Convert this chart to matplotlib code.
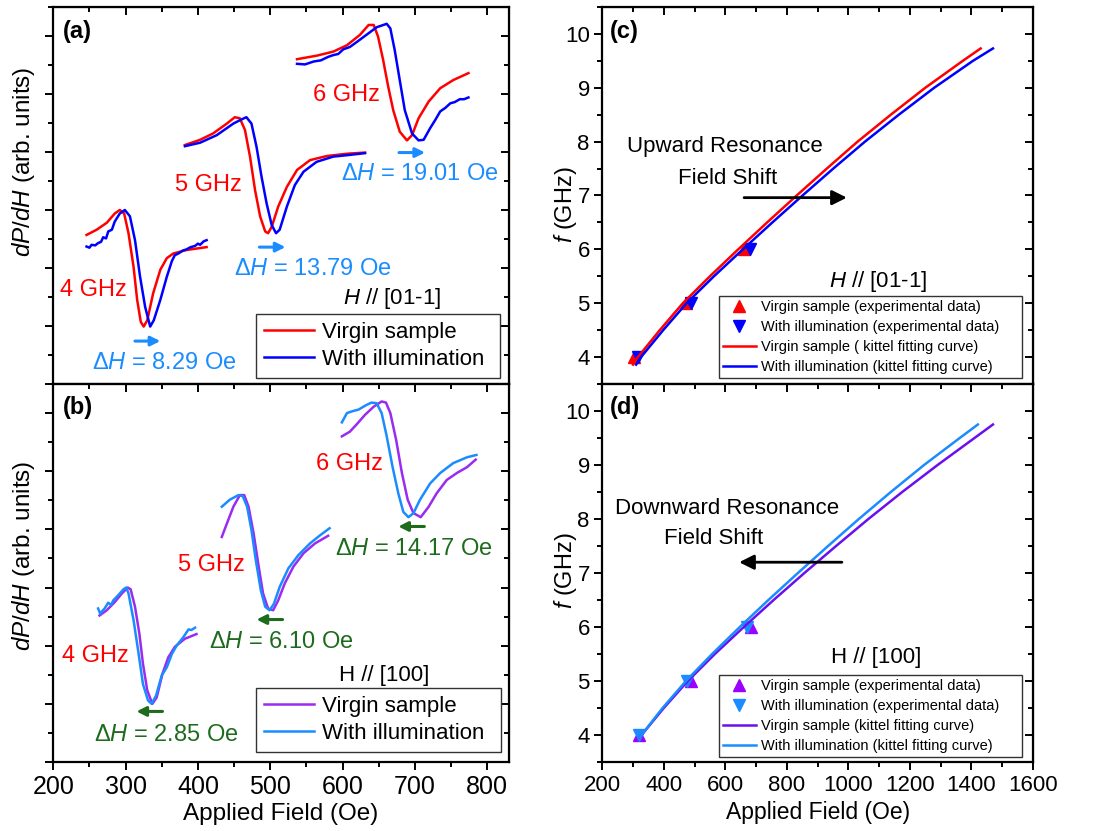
import matplotlib.pyplot as plt
from matplotlib.ticker import MultipleLocator
from matplotlib.lines import Line2D

plt.rcParams['font.family'] = ['Liberation Sans', 'DejaVu Sans']
plt.rcParams['mathtext.fontset'] = 'custom'
plt.rcParams['mathtext.rm'] = 'Liberation Sans'
plt.rcParams['mathtext.it'] = 'Liberation Sans:italic'

# ---- panel (a): H // [01-1], FMR spectra (field in Oe, dP/dH arb. units, offset per frequency)
a4_virgin_h = [246, 260, 274, 285, 292, 298, 304, 311, 316, 321, 325, 330, 338, 348, 357, 366, 384, 412]
a4_virgin_y = [1.57, 1.66, 1.78, 1.94, 2.00, 1.94, 1.60, 1.02, 0.45, 0.07, -0.01, 0.10, 0.56, 0.97, 1.17, 1.25, 1.31, 1.36]
a4_illum_h = [246, 250, 253, 258, 262, 266, 269, 273, 276, 281, 285, 292, 299, 306, 313, 320, 327, 334, 339, 348, 357, 364, 368, 373, 379, 384, 390, 396, 400, 403, 408, 412]
a4_illum_y = [1.37, 1.35, 1.40, 1.39, 1.43, 1.45, 1.53, 1.51, 1.63, 1.66, 1.80, 1.94, 2.00, 1.89, 1.48, 0.85, 0.33, -0.01, 0.10, 0.45, 0.85, 1.12, 1.22, 1.25, 1.30, 1.32, 1.36, 1.38, 1.42, 1.40, 1.46, 1.48]
a5_virgin_h = [382, 403, 421, 440, 451, 458, 465, 472, 479, 486, 493, 497, 502, 511, 523, 537, 555, 578, 606, 631]
a5_virgin_y = [3.12, 3.21, 3.32, 3.49, 3.60, 3.58, 3.38, 2.92, 2.34, 1.89, 1.63, 1.60, 1.71, 2.06, 2.40, 2.69, 2.86, 2.93, 2.97, 2.99]
a5_illum_h = [382, 403, 426, 449, 460, 467, 474, 481, 488, 495, 502, 508, 513, 523, 534, 546, 564, 587, 610, 631]
a5_illum_y = [3.10, 3.16, 3.29, 3.49, 3.56, 3.60, 3.49, 3.09, 2.57, 2.11, 1.74, 1.60, 1.66, 2.06, 2.43, 2.66, 2.83, 2.92, 2.95, 2.98]
a6_virgin_h = [537, 564, 587, 606, 624, 636, 643, 649, 656, 663, 670, 679, 689, 696, 705, 719, 735, 753, 774]
a6_virgin_y = [4.60, 4.66, 4.73, 4.84, 5.02, 5.19, 5.19, 4.99, 4.59, 4.13, 3.72, 3.35, 3.20, 3.29, 3.58, 3.87, 4.10, 4.24, 4.36]
a6_illum_h = [537, 548, 560, 570, 580, 587, 594, 601, 610, 620, 633, 647, 661, 666, 672, 679, 686, 696, 705, 712, 721, 728, 735, 742, 749, 755, 762, 768, 774]
a6_illum_y = [4.52, 4.51, 4.56, 4.58, 4.64, 4.67, 4.69, 4.77, 4.81, 4.90, 5.02, 5.15, 5.21, 5.13, 4.76, 4.24, 3.72, 3.32, 3.20, 3.21, 3.41, 3.55, 3.70, 3.76, 3.84, 3.86, 3.91, 3.91, 3.94]

# ---- panel (b): H // [100]
b4_virgin_h = [264, 274, 285, 295, 303, 307, 313, 319, 324, 330, 337, 343, 351, 359, 368, 382, 398]
b4_virgin_y = [1.52, 1.61, 1.75, 1.90, 2.00, 1.97, 1.67, 1.21, 0.69, 0.23, 0.00, 0.11, 0.52, 0.80, 0.98, 1.12, 1.20]
b4_illum_h = [262, 265, 268, 271, 276, 280, 283, 290, 297, 301, 304, 311, 318, 324, 331, 336, 342, 350, 357, 364, 371, 380, 387, 391, 396]
b4_illum_y = [1.64, 1.55, 1.60, 1.64, 1.74, 1.70, 1.78, 1.87, 1.97, 2.00, 1.90, 1.44, 0.86, 0.34, 0.06, 0.00, 0.14, 0.49, 0.63, 0.86, 1.01, 1.15, 1.28, 1.27, 1.31]
b5_virgin_h = [433, 440, 449, 458, 464, 470, 477, 484, 490, 497, 504, 511, 520, 532, 546, 562, 580]
b5_virgin_y = [2.87, 3.10, 3.39, 3.59, 3.59, 3.39, 2.93, 2.36, 1.90, 1.64, 1.61, 1.78, 2.07, 2.36, 2.59, 2.76, 2.89]
b5_illum_h = [433, 444, 456, 462, 468, 474, 480, 487, 493, 499, 505, 513, 525, 539, 555, 569, 582]
b5_illum_y = [3.39, 3.51, 3.59, 3.57, 3.39, 2.99, 2.47, 1.95, 1.67, 1.61, 1.72, 2.01, 2.33, 2.56, 2.76, 2.90, 3.02]
b6_virgin_h = [599, 610, 619, 631, 643, 654, 660, 666, 674, 682, 690, 698, 708, 719, 730, 744, 758, 772, 784]
b6_virgin_y = [4.60, 4.68, 4.80, 4.97, 5.11, 5.20, 5.18, 5.00, 4.54, 3.97, 3.51, 3.28, 3.21, 3.39, 3.62, 3.85, 3.97, 4.07, 4.20]
b6_illum_h = [599, 606, 613, 622, 633, 640, 647, 654, 661, 669, 677, 684, 691, 698, 707, 721, 735, 753, 772, 785]
b6_illum_y = [4.84, 5.00, 5.03, 5.06, 5.14, 5.18, 5.17, 5.00, 4.60, 4.08, 3.62, 3.30, 3.21, 3.28, 3.51, 3.79, 3.97, 4.14, 4.24, 4.28]

# ---- panel (c): resonance frequency vs field, H // [01-1]
c_exp_f = [4, 5, 6]
c_virgin_exp_h = [304, 471, 661]
c_illum_exp_h = [315, 487, 680]
c_fit_f = [3.86, 4.0, 4.5, 5.0, 5.5, 6.0, 6.5, 7.0, 7.5, 8.0, 8.5, 9.0, 9.5, 9.73]
c_virgin_fit_h = [300, 316, 387, 462, 550, 642, 736, 832, 930, 1030, 1138, 1250, 1372, 1430]
c_illum_fit_h = [310, 326, 398, 474, 563, 657, 753, 851, 951, 1054, 1164, 1279, 1405, 1470]

# ---- panel (d): resonance frequency vs field, H // [100]
d_exp_f = [4, 5, 6]
d_virgin_exp_h = [319, 487, 683]
d_illum_exp_h = [319, 474, 670]
d_fit_f = [3.96, 4.5, 5.0, 5.5, 6.0, 6.5, 7.0, 7.5, 8.0, 8.5, 9.0, 9.5, 9.75]
d_virgin_fit_h = [322, 400, 478, 566, 660, 757, 857, 960, 1065, 1175, 1290, 1410, 1470]
d_illum_fit_h = [322, 396, 472, 557, 647, 740, 836, 934, 1034, 1138, 1246, 1362, 1421]

RED = '#ff0000'
BLUE = '#0000ff'
TXTBLUE = '#1a8cff'
PURPLE = '#9a2bf0'
LBLUE = '#1a8cff'
GREEN = '#1e6b1e'
D_PURPLE_LINE = '#6a10f0'
D_PURPLE_MARK = '#9b00ff'

fig = plt.figure(figsize=(11.12, 8.31), dpi=100)
ax_a = fig.add_axes([0.0479, 0.5379, 0.4098, 0.4537])
ax_b = fig.add_axes([0.0479, 0.0830, 0.4098, 0.4549])
ax_c = fig.add_axes([0.5416, 0.5379, 0.3873, 0.4537])
ax_d = fig.add_axes([0.5416, 0.0830, 0.3873, 0.4549])


def style(ax, xmaj, xmin, ymaj, ymin, xlabels, ylabels, size):
    for s in ax.spines.values():
        s.set_linewidth(1.6)
    ax.xaxis.set_major_locator(MultipleLocator(xmaj))
    ax.xaxis.set_minor_locator(MultipleLocator(xmin))
    ax.yaxis.set_major_locator(MultipleLocator(ymaj))
    ax.yaxis.set_minor_locator(MultipleLocator(ymin))
    ax.tick_params(which='both', direction='out', width=1.4, labelsize=size,
                   labelbottom=xlabels, labelleft=ylabels, pad=3)
    ax.tick_params(which='major', length=6)
    ax.tick_params(which='minor', length=3.5)
    # mirrored ticks pointing inwards on top and right
    top = ax.secondary_xaxis('top')
    top.xaxis.set_major_locator(MultipleLocator(xmaj))
    top.xaxis.set_minor_locator(MultipleLocator(xmin))
    top.tick_params(which='both', direction='in', width=1.4, labeltop=False)
    top.tick_params(which='major', length=6)
    top.tick_params(which='minor', length=3.5)
    right = ax.secondary_yaxis('right')
    right.yaxis.set_major_locator(MultipleLocator(ymaj))
    right.yaxis.set_minor_locator(MultipleLocator(ymin))
    right.tick_params(which='both', direction='in', width=1.4, labelright=False)
    right.tick_params(which='major', length=6)
    right.tick_params(which='minor', length=3.5)


def arrow(ax, x0, x1, y, color, lw=2.2, scale=14):
    ax.annotate('', xy=(x1, y), xytext=(x0, y),
                arrowprops=dict(arrowstyle='-|>', color=color, lw=lw,
                                mutation_scale=scale, shrinkA=0, shrinkB=0))


def box_legend(ax, handles, labels, box, size, hlen, spacing, pad=0.25):
    leg = ax.legend(handles, labels, loc='lower left', bbox_to_anchor=box, mode='expand',
                    borderaxespad=0, fontsize=size, fancybox=False, edgecolor='#333333',
                    framealpha=1, handlelength=hlen, labelspacing=spacing,
                    borderpad=pad, handletextpad=0.35)
    leg.get_frame().set_linewidth(1.0)


LW = 1.8

# (a)
ax = ax_a
ax.plot(a4_virgin_h, a4_virgin_y, color=RED, lw=LW)
ax.plot(a4_illum_h, a4_illum_y, color=BLUE, lw=LW)
ax.plot(a5_virgin_h, a5_virgin_y, color=RED, lw=LW)
ax.plot(a5_illum_h, a5_illum_y, color=BLUE, lw=LW)
ax.plot(a6_virgin_h, a6_virgin_y, color=RED, lw=LW)
ax.plot(a6_illum_h, a6_illum_y, color=BLUE, lw=LW)
ax.set_xlim(200, 830)
ax.set_ylim(-1, 5.5)
style(ax, 100, 50, 1, 0.5, False, False, 18)
ax.set_ylabel(r'$dP/dH$ (arb. units)', fontsize=17.5)
ax.yaxis.set_label_coords(-0.035, 0.59)
ax.text(0.022, 0.934, '(a)', transform=ax.transAxes, fontsize=17, fontweight='bold', va='center')
ax.text(256, 0.62, '4 GHz', color=RED, fontsize=17, ha='center', va='center')
ax.text(414, 2.43, '5 GHz', color=RED, fontsize=17, ha='center', va='center')
ax.text(606, 3.98, '6 GHz', color=RED, fontsize=17, ha='center', va='center')
ax.text(353, -0.64, r'Δ$H$ = 8.29 Oe', color=TXTBLUE, fontsize=17, ha='center', va='center')
ax.text(559, 0.98, r'Δ$H$ = 13.79 Oe', color=TXTBLUE, fontsize=17, ha='center', va='center')
ax.text(707, 2.62, r'Δ$H$ = 19.01 Oe', color=TXTBLUE, fontsize=17, ha='center', va='center')
arrow(ax, 313, 348, -0.26, TXTBLUE)
arrow(ax, 485, 521, 1.36, TXTBLUE)
arrow(ax, 678, 714, 2.99, TXTBLUE)
ax.text(668, 0.48, r'$H$ // [01-1]', fontsize=16, ha='center', va='center')
hand = [Line2D([], [], color=RED, lw=LW), Line2D([], [], color=BLUE, lw=LW)]
box_legend(ax, hand, ['Virgin sample', 'With illumination'],
           (0.445, 0.016, 0.535, 0.2), 16, 2.25, 0.25, pad=0.38)

# (b)
ax = ax_b
ax.plot(b4_virgin_h, b4_virgin_y, color=PURPLE, lw=LW)
ax.plot(b4_illum_h, b4_illum_y, color=LBLUE, lw=LW)
ax.plot(b5_virgin_h, b5_virgin_y, color=PURPLE, lw=LW)
ax.plot(b5_illum_h, b5_illum_y, color=LBLUE, lw=LW)
ax.plot(b6_virgin_h, b6_virgin_y, color=PURPLE, lw=LW)
ax.plot(b6_illum_h, b6_illum_y, color=LBLUE, lw=LW)
ax.set_xlim(200, 830)
ax.set_ylim(-1, 5.5)
style(ax, 100, 50, 1, 0.5, True, False, 18)
ax.set_xlabel('Applied Field (Oe)', fontsize=17.5, labelpad=3)
ax.set_ylabel(r'$dP/dH$ (arb. units)', fontsize=17.5)
ax.yaxis.set_label_coords(-0.035, 0.545)
ax.text(0.022, 0.937, '(b)', transform=ax.transAxes, fontsize=17, fontweight='bold', va='center')
ax.text(258, 0.82, '4 GHz', color=RED, fontsize=17, ha='center', va='center')
ax.text(419, 2.39, '5 GHz', color=RED, fontsize=17, ha='center', va='center')
ax.text(610, 4.12, '6 GHz', color=RED, fontsize=17, ha='center', va='center')
ax.text(356, -0.53, r'Δ$H$ = 2.85 Oe', color=GREEN, fontsize=17, ha='center', va='center')
ax.text(515, 1.06, r'Δ$H$ = 6.10 Oe', color=GREEN, fontsize=17, ha='center', va='center')
ax.text(699, 2.67, r'Δ$H$ = 14.17 Oe', color=GREEN, fontsize=17, ha='center', va='center')
arrow(ax, 351, 315, -0.13, GREEN)
arrow(ax, 517, 481, 1.45, GREEN)
arrow(ax, 713, 677, 3.05, GREEN)
ax.text(658, 0.49, 'H // [100]', fontsize=16, ha='center', va='center')
hand = [Line2D([], [], color=PURPLE, lw=LW), Line2D([], [], color=LBLUE, lw=LW)]
box_legend(ax, hand, ['Virgin sample', 'With illumination'],
           (0.445, 0.026, 0.538, 0.2), 16, 2.25, 0.25, pad=0.38)

# (c)
ax = ax_c
ax.plot(c_virgin_exp_h, c_exp_f, '^', color=RED, ms=9, ls='none')
ax.plot(c_illum_exp_h, c_exp_f, 'v', color=BLUE, ms=9, ls='none')
ax.plot(c_virgin_fit_h, c_fit_f, color=RED, lw=LW)
ax.plot(c_illum_fit_h, c_fit_f, color=BLUE, lw=LW)
ax.set_xlim(200, 1600)
ax.set_ylim(3.5, 10.5)
style(ax, 200, 100, 1, 0.5, False, True, 16)
ax.set_ylabel(r'$f$ (GHz)', fontsize=17)
ax.yaxis.set_label_coords(-0.054, 0.475)
ax.text(0.018, 0.934, '(c)', transform=ax.transAxes, fontsize=17, fontweight='bold', va='center')
ax.text(600, 7.91, 'Upward Resonance', fontsize=16, ha='center', va='center')
ax.text(606, 7.31, 'Field Shift', fontsize=16, ha='center', va='center')
arrow(ax, 661, 995, 6.96, 'black', lw=2, scale=22)
ax.text(1098, 5.40, r'$H$ // [01-1]', fontsize=16, ha='center', va='center')
hand = [Line2D([], [], marker='^', color=RED, ms=9, ls='none'),
        Line2D([], [], marker='v', color=BLUE, ms=9, ls='none'),
        Line2D([], [], color=RED, lw=LW), Line2D([], [], color=BLUE, lw=LW)]
box_legend(ax, hand, ['Virgin sample (experimental data)',
                      'With illumination (experimental data)',
                      'Virgin sample ( kittel fitting curve)',
                      'With illumination (kittel fitting curve)'],
           (0.271, 0.016, 0.703, 0.2), 10.5, 2.3, 0.42)

# (d)
ax = ax_d
ax.plot(d_virgin_exp_h, d_exp_f, '^', color=D_PURPLE_MARK, ms=9, ls='none')
ax.plot(d_illum_exp_h, d_exp_f, 'v', color=LBLUE, ms=9, ls='none')
ax.plot(d_virgin_fit_h, d_fit_f, color=D_PURPLE_LINE, lw=LW)
ax.plot(d_illum_fit_h, d_fit_f, color=LBLUE, lw=LW)
ax.set_xlim(200, 1600)
ax.set_ylim(3.5, 10.5)
style(ax, 200, 100, 1, 0.5, True, True, 16)
ax.set_xlabel('Applied Field (Oe)', fontsize=16.5, labelpad=4)
ax.set_ylabel(r'$f$ (GHz)', fontsize=17)
ax.yaxis.set_label_coords(-0.054, 0.505)
ax.text(0.018, 0.937, '(d)', transform=ax.transAxes, fontsize=17, fontweight='bold', va='center')
ax.text(606, 8.19, 'Downward Resonance', fontsize=16, ha='center', va='center')
ax.text(563, 7.63, 'Field Shift', fontsize=16, ha='center', va='center')
arrow(ax, 979, 645, 7.2, 'black', lw=2, scale=22)
ax.text(1090, 5.44, 'H // [100]', fontsize=16, ha='center', va='center')
hand = [Line2D([], [], marker='^', color=D_PURPLE_MARK, ms=9, ls='none'),
        Line2D([], [], marker='v', color=LBLUE, ms=9, ls='none'),
        Line2D([], [], color=D_PURPLE_LINE, lw=LW), Line2D([], [], color=LBLUE, lw=LW)]
box_legend(ax, hand, ['Virgin sample (experimental data)',
                      'With illumination (experimental data)',
                      'Virgin sample (kittel fitting curve)',
                      'With illumination (kittel fitting curve)'],
           (0.271, 0.013, 0.703, 0.2), 10.5, 2.3, 0.42)

fig.savefig('out.png', dpi=100)
